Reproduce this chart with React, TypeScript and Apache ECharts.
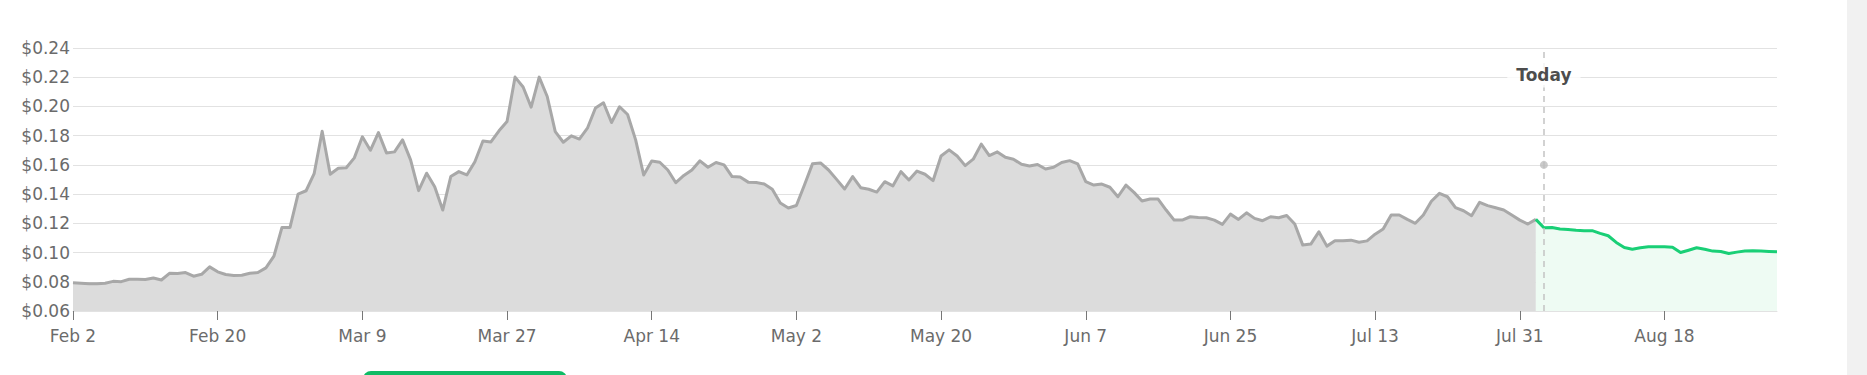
import React, { useEffect, useRef } from "react";
import * as echarts from "echarts";

// ---- data ----
const startDate = "2024-02-02";
const dayCount = 213; // Feb 2 .. Sep 1
const monthNames = ["Jan", "Feb", "Mar", "Apr", "May", "Jun", "Jul", "Aug", "Sep", "Oct", "Nov", "Dec"];
const tickLabels = ["Feb 2", "Feb 20", "Mar 9", "Mar 27", "Apr 14", "May 2", "May 20", "Jun 7", "Jun 25", "Jul 13", "Jul 31", "Aug 18"];
const todayLabel = "Aug 3";
const todayMarkerValue = 0.16;
const todayTextValue = 0.2215;

const historyPrices = [
  0.0794, 0.079, 0.0786, 0.0786, 0.079, 0.0803, 0.0801, 0.0817, 0.0817, 0.0815,
  0.0826, 0.0812, 0.0858, 0.0856, 0.0863, 0.0838, 0.0851, 0.0902, 0.0868, 0.085,
  0.0843, 0.0845, 0.0858, 0.0863, 0.0895, 0.0975, 0.1172, 0.1172, 0.14, 0.1423,
  0.154, 0.183, 0.1536, 0.1577, 0.158, 0.1648, 0.1792, 0.17, 0.1821, 0.1682,
  0.1689, 0.1771, 0.1634, 0.1424, 0.1543, 0.1451, 0.1291, 0.152, 0.1554, 0.1531,
  0.1622, 0.1764, 0.1757, 0.1833, 0.1897, 0.2201, 0.2133, 0.1995, 0.2201, 0.2068,
  0.1828, 0.1755, 0.1799, 0.1777, 0.1851, 0.1989, 0.2025, 0.189, 0.1998, 0.1945,
  0.1771, 0.1531, 0.1627, 0.1618, 0.1565, 0.1478, 0.1528, 0.1565, 0.1628, 0.1584,
  0.1616, 0.16, 0.152, 0.1517, 0.1482, 0.1479, 0.1469, 0.1433, 0.1339, 0.1305,
  0.1322, 0.1462, 0.1607, 0.1613, 0.1565, 0.1501, 0.1435, 0.152, 0.1444, 0.1433,
  0.1414, 0.1485, 0.1456, 0.1554, 0.1497, 0.1558, 0.1536, 0.1492, 0.1661, 0.1703,
  0.1661, 0.1595, 0.1639, 0.1742, 0.1664, 0.1689, 0.1652, 0.1639, 0.1604, 0.1593,
  0.1603, 0.1572, 0.1584, 0.1616, 0.1629, 0.1607, 0.1485, 0.1462, 0.1469, 0.1447,
  0.1382, 0.1462, 0.1412, 0.1353, 0.1366, 0.1366, 0.1291, 0.1222, 0.1222, 0.1245,
  0.124, 0.1238, 0.1222, 0.1193, 0.1263, 0.1227, 0.1272, 0.1234, 0.1218, 0.1245,
  0.1238, 0.1254, 0.1195, 0.1051, 0.1058, 0.1142, 0.1044, 0.108, 0.108, 0.1085,
  0.1071, 0.108, 0.1126, 0.1161, 0.1257, 0.1257, 0.1227, 0.12, 0.1257, 0.1351,
  0.1405, 0.1382, 0.1307, 0.1286, 0.1252, 0.1344, 0.1321, 0.1307, 0.1291, 0.1257,
  0.1222, 0.1195, 0.1227,
];

// forecast starts at the last history day (Aug 2)
const forecastPrices = [
  0.1227, 0.117, 0.1172, 0.1161, 0.1158, 0.1152, 0.115, 0.115, 0.1131, 0.1115,
  0.1069, 0.1035, 0.1023, 0.1033, 0.1039, 0.1039, 0.1039, 0.1037, 0.1, 0.1016,
  0.1033, 0.1023, 0.101, 0.1007, 0.0994, 0.1003, 0.101, 0.1012, 0.101, 0.1007,
  0.1005,
];

function buildCategories(): string[] {
  const out: string[] = [];
  const d0 = new Date(startDate + "T00:00:00Z");
  for (let i = 0; i < dayCount; i++) {
    const d = new Date(d0.getTime() + i * 86400000);
    out.push(monthNames[d.getUTCMonth()] + " " + d.getUTCDate());
  }
  return out;
}

const FONT = "DejaVu Sans";

export default function App() {
  const ref = useRef<HTMLDivElement>(null);
  useEffect(() => {
    if (!ref.current) return;
    const chart = echarts.init(ref.current, undefined, { renderer: "svg" });
    const categories = buildCategories();
    const forecastOffset = historyPrices.length - 1;
    const forecastData = new Array(forecastOffset).fill(null).concat(forecastPrices);
    const showTick = (idx: number, val: string) => tickLabels.indexOf(val) >= 0;

    chart.setOption({
      animation: false,
      backgroundColor: "#ffffff",
      grid: { left: 73, right: 90, top: 48, bottom: 64, containLabel: false },
      xAxis: {
        type: "category",
        boundaryGap: false,
        data: categories,
        axisLine: { show: true, lineStyle: { color: "#e2e2e2", width: 1 } },
        axisTick: {
          show: true,
          interval: showTick,
          length: 9,
          lineStyle: { color: "#777777", width: 1 },
        },
        axisLabel: {
          interval: showTick,
          margin: 16,
          fontFamily: FONT,
          fontSize: 17,
          color: "#6b6b6b",
        },
        splitLine: { show: false },
      },
      yAxis: {
        type: "value",
        min: 0.06,
        max: 0.24,
        interval: 0.02,
        axisLine: { show: false },
        axisTick: { show: false },
        axisLabel: {
          margin: 3,
          fontFamily: FONT,
          fontSize: 17,
          color: "#6b6b6b",
          formatter: (v: number) => "$" + v.toFixed(2),
        },
        splitLine: { show: true, lineStyle: { color: "#e2e2e2", width: 1.2 } },
      },
      series: [
        {
          type: "line",
          data: historyPrices,
          showSymbol: false,
          symbol: "none",
          lineStyle: { color: "#a8a8a8", width: 3, join: "round" },
          areaStyle: { color: "#dcdcdc", opacity: 1 },
          z: 2,
        },
        {
          type: "line",
          data: forecastData,
          showSymbol: false,
          symbol: "none",
          lineStyle: { color: "#19cf76", width: 3, join: "round" },
          areaStyle: { color: "#eefbf3", opacity: 1 },
          z: 2,
          markLine: {
            silent: true,
            symbol: "none",
            label: { show: false },
            lineStyle: { color: "#c4c4c4", width: 1.5, type: [6, 5] },
            data: [{ xAxis: todayLabel }],
          },
        },
        {
          type: "scatter",
          data: [[todayLabel, todayMarkerValue]],
          symbol: "circle",
          symbolSize: 8,
          itemStyle: { color: "#bdbdbd" },
          z: 5,
        },
        {
          type: "scatter",
          data: [[todayLabel, todayTextValue]],
          symbolSize: 0,
          z: 6,
          label: {
            show: true,
            position: "inside",
            formatter: "Today",
            fontFamily: FONT,
            fontWeight: "bold",
            fontSize: 17,
            color: "#1c1c1c",
            backgroundColor: "#ffffff",
            padding: [4, 9, 4, 9],
          },
        },
      ],
      graphic: [
        {
          type: "rect",
          shape: { x: 1847, y: 0, width: 20, height: 375 },
          style: { fill: "#f1f1f1" },
          z: 10,
        },
        {
          type: "rect",
          shape: { x: 363, y: 371, width: 204, height: 24, r: 8 },
          style: { fill: "#0fbb65" },
          z: 10,
        },
      ],
    });
    return () => chart.dispose();
  }, []);
  return (
    <div
      ref={ref}
      style={{ position: "absolute", left: 0, top: 0, width: 1867, height: 375 }}
    />
  );
}
